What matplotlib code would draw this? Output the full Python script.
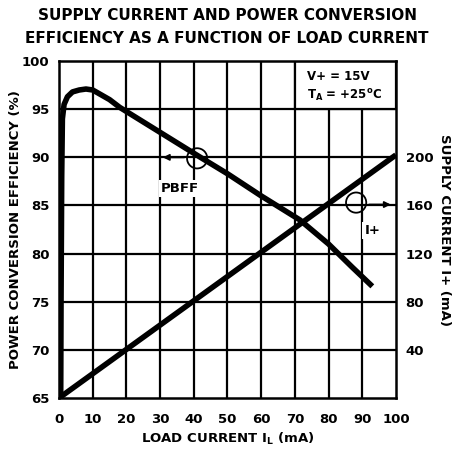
import matplotlib.pyplot as plt
from matplotlib.patches import Ellipse, Rectangle

plt.rcParams['font.family'] = ['DejaVu Sans']
plt.rcParams['font.weight'] = 'bold'
plt.rcParams['mathtext.default'] = 'bf'

# efficiency curve (load current mA, efficiency %)
eff_x = [0.5, 0.6, 0.8, 1.0, 1.5, 2.5, 4, 6, 8, 10, 12, 15, 18, 24, 30, 42, 50, 60, 71.5, 80, 87, 93]
eff_y = [65, 75, 88, 94, 95.5, 96.3, 96.8, 97.0, 97.1, 97.0, 96.6, 96.0, 95.2, 93.9, 92.6, 90.0, 88.3, 86.0, 83.5, 81.0, 78.6, 76.6]

# supply current line (load current mA, supply current mA)
sup_x = [0, 100]
sup_y = [0, 202]

x_ticks = [0, 10, 20, 30, 40, 50, 60, 70, 80, 90, 100]
left_ticks = [65, 70, 75, 80, 85, 90, 95, 100]
right_ticks = [40, 80, 120, 160, 200]

fs = 9.5
white = dict(facecolor='white', edgecolor='none', pad=1.5)

fig = plt.figure(figsize=(4.54, 4.51), dpi=100)
ax = fig.add_axes([0.130, 0.1175, 0.742, 0.747])
ax.set_xlim(0, 100)
ax.set_ylim(65, 100)

for x in x_ticks[1:-1]:
    ax.plot([x, x], [65, 100], color='black', lw=1.6, zorder=1)
for y in left_ticks[1:-1]:
    ax.plot([0, 100], [y, y], color='black', lw=1.6, zorder=1)

# blank box for conditions
ax.add_patch(Rectangle((70, 95), 30, 5, facecolor='white', edgecolor='black', lw=1.6, zorder=2))
ax.text(73.5, 98.4, 'V+ = 15V', fontsize=8.5, fontweight='bold', va='center', zorder=3)
ax.text(73.5, 96.4, r'T$_{A}$ = +25$^{o}$C', fontsize=8.5, fontweight='bold', va='center', zorder=3)

ax.plot(eff_x, eff_y, color='black', lw=4, solid_capstyle='butt', zorder=4)
ax.plot(sup_x, [65 + v / 8 for v in sup_y], color='black', lw=4, solid_capstyle='butt', zorder=4)

# curve markers
ax.add_patch(Ellipse((41, 89.9), 6.0, 2.1, fill=False, edgecolor='black', lw=1.3, zorder=5))
ax.annotate('', xy=(30, 90), xytext=(38, 90),
            arrowprops=dict(arrowstyle='-|>', color='black', lw=1.3, mutation_scale=9), zorder=5)
ax.text(36, 86.8, 'PBFF', fontsize=fs, fontweight='bold', ha='center', va='center', bbox=white, zorder=3)
ax.add_patch(Ellipse((88.2, 85.3), 6.0, 2.1, fill=False, edgecolor='black', lw=1.3, zorder=5))
ax.annotate('', xy=(99.3, 85.1), xytext=(91.2, 85.1),
            arrowprops=dict(arrowstyle='-|>', color='black', lw=1.3, mutation_scale=9), zorder=5)
ax.text(93, 82.4, 'I+', fontsize=fs, fontweight='bold', ha='center', va='center', bbox=white, zorder=3)

for s in ax.spines.values():
    s.set_linewidth(1.8)
ax.set_xticks(x_ticks)
ax.set_yticks(left_ticks)
ax.tick_params(axis='x', length=0, labelsize=fs, pad=11)
ax.tick_params(axis='y', length=0, labelsize=fs, pad=7)
for lab in ax.get_xticklabels() + ax.get_yticklabels():
    lab.set_fontweight('bold')
ax.set_xlabel(r'LOAD CURRENT I$_{L}$ (mA)', fontsize=fs, fontweight='bold', labelpad=3)
ax.set_ylabel('POWER CONVERSION EFFICIENCY (%)', fontsize=fs, fontweight='bold', labelpad=0)

ax2 = ax.twinx()
ax2.set_ylim(0, 280)
ax2.set_yticks(right_ticks)
ax2.tick_params(length=0, labelsize=fs, pad=7)
for lab in ax2.get_yticklabels():
    lab.set_fontweight('bold')
for s in ax2.spines.values():
    s.set_visible(False)
ax2.set_ylabel('SUPPLY CURRENT I+ (mA)', fontsize=fs, fontweight='bold', rotation=-90, labelpad=13)

fig.text(0.5, 0.983, 'SUPPLY CURRENT AND POWER CONVERSION\nEFFICIENCY AS A FUNCTION OF LOAD CURRENT',
         ha='center', va='top', fontsize=11, fontweight='bold', linespacing=1.7)

fig.savefig('out.png', dpi=100)
